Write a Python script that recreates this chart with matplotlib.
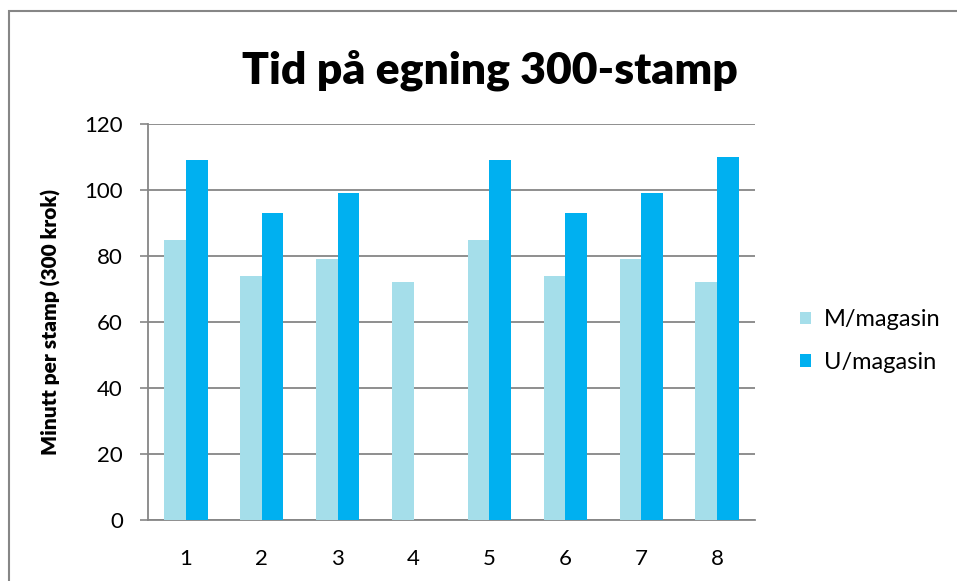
import numpy as np
import matplotlib.pyplot as plt
from matplotlib.patches import Rectangle

# ========== DONNÉES ==========
kategorier = ["1", "2", "3", "4", "5", "6", "7", "8"]
m_magasin = [85, 74, 79, 72, 85, 74, 79, 72]
u_magasin = [109, 93, 99, 0, 109, 93, 99, 110]
serie_navn = ["M/magasin", "U/magasin"]
y_ticks = [0, 20, 40, 60, 80, 100, 120]

plt.rcParams['font.family'] = ['Lato', 'DejaVu Sans']

fig = plt.figure(figsize=(9.57, 5.81), dpi=100)
ax = fig.add_axes([148 / 957, 1 - 520 / 581, (755 - 148) / 957, (520 - 124) / 581])

x = np.arange(len(kategorier))
bredde = 0.285
ax.bar(x - bredde / 2, m_magasin, bredde, color='#A5DEEA', label=serie_navn[0], zorder=3)
ax.bar(x + bredde / 2, u_magasin, bredde, color='#00B0F0', label=serie_navn[1], zorder=3)

ax.set_xlim(-0.5, len(kategorier) - 0.5)
ax.set_ylim(0, 120)
ax.set_yticks(y_ticks)
ax.set_xticks(x)
ax.set_xticklabels(kategorier)
ax.tick_params(axis='y', length=6, width=1.2, color='#868686', labelsize=16, pad=12)
ax.tick_params(axis='x', length=0, labelsize=16, pad=21)

ax.grid(axis='y', color='#868686', linewidth=1.3, zorder=0)
for side in ['top', 'right']:
    ax.spines[side].set_visible(False)
for side in ['left', 'bottom']:
    ax.spines[side].set_color('#868686')
    ax.spines[side].set_linewidth(1.3)

ax.set_ylabel('Minutt per stamp (300 krok)', fontsize=15, fontweight='heavy', labelpad=17)
fig.text(490 / 957, 1 - 70 / 581, 'Tid på egning 300-stamp', fontsize=32,
         fontweight='heavy', ha='center', va='center')

leg = fig.legend(loc='center left', bbox_to_anchor=(779 / 957, 1 - 341 / 581),
                 frameon=False, fontsize=17, handlelength=0.45, handleheight=0.45,
                 handletextpad=0.55, labelspacing=0.9)

# cadre du graphique
fig.patches.append(Rectangle((9 / 957, -0.05), 1.0, 1 - 11 / 581 + 0.05,
                             transform=fig.transFigure, fill=False,
                             edgecolor='#868686', linewidth=1.5))

fig.savefig('out.png', dpi=100)
